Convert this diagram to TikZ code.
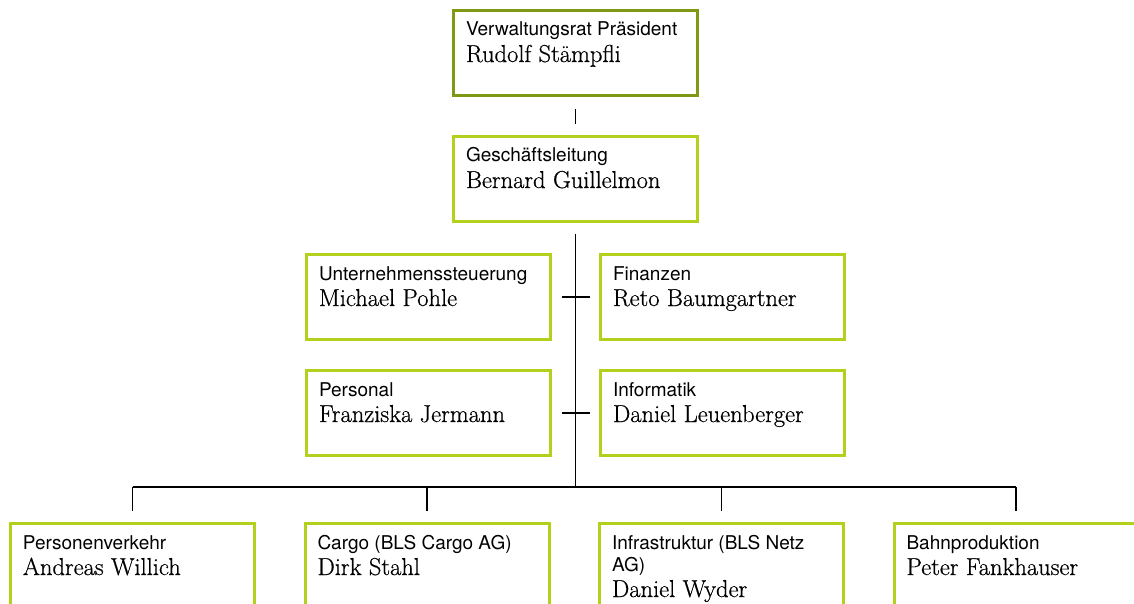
\documentclass[tikz,border=0pt]{standalone}
\usepackage{fontspec}
\usetikzlibrary{positioning, calc}

\newfontfamily\labelfont{TeX Gyre Heros}
\newfontfamily\namefont[FakeBold=0.6]{Latin Modern Roman}
\definecolor{blsolive}{HTML}{7E9A14}
\definecolor{blslime}{HTML}{B4CF1C}

% label on top, name below
\newcommand\unittext[2]{\parbox[c][84pt][t]{219pt}{\raggedright
    \labelfont\fontsize{19}{22}\selectfont\rule{0pt}{25pt}#1\par
    \namefont\fontsize{24.5}{26}\selectfont #2\par}}

\begin{document}
\begin{tikzpicture}[
    x=1pt, y=-1pt,
    node distance=38pt and 50pt,
    unit/.style={
        rectangle,
        draw=blslime,
        line width=3pt,
        minimum width=244pt,
        minimum height=85pt,
        inner sep=0pt
    },
    board/.style={
        unit,
        draw=blsolive
    },
    link/.style={
        draw=black,
        line width=1.4pt
    }
]
    \useasboundingbox (0,0) rectangle (1134,604);

    % Verwaltungsrat
    \node[board] (vr) at (575.5,53) {\unittext{Verwaltungsrat Präsident}{Rudolf Stämpfli}};

    % Geschaeftsleitung
    \node[unit, below=of vr] (gl) {\unittext{Geschäftsleitung}{Bernard Guillelmon}};
    \draw[link, shorten <=12.5pt, shorten >=10.5pt] (vr) -- (gl);

    % Stab
    \node[unit] (us) at (428.5,297) {\unittext{Unternehmenssteuerung}{Michael Pohle}};
    \node[unit] (fin) at (722.5,297) {\unittext{Finanzen}{Reto Baumgartner}};
    \node[unit, below=28pt of us] (pers) {\unittext{Personal}{Franziska Jermann}};
    \node[unit, below=28pt of fin] (inf) {\unittext{Informatik}{Daniel Leuenberger}};
    \draw[link, shorten <=9.5pt, shorten >=9.5pt] (us) -- (fin);
    \draw[link, shorten <=9.5pt, shorten >=9.5pt] (pers) -- (inf);

    % Bereiche
    \node[unit] (pv) at (132.5,566) {\unittext{Personenverkehr}{Andreas Willich}};
    \node[unit] (cargo) at (427,566) {\unittext{Cargo (BLS Cargo AG)}{Dirk Stahl}};
    \node[unit] (netz) at (721.5,566) {\unittext{Infrastruktur (BLS Netz\\AG)}{Daniel Wyder}};
    \node[unit] (bp) at (1016,566) {\unittext{Bahnproduktion}{Peter Fankhauser}};

    \coordinate (bus) at (575.5,487);
    \draw[link, shorten <=10.5pt] (gl) -- (bus);
    \draw[link] (pv.north |- bus) -- (bp.north |- bus);
    \foreach \n in {pv, cargo, netz, bp}
        \draw[link, shorten <=11.5pt] (\n.north) -- (\n.north |- bus);

\end{tikzpicture}
\end{document}
